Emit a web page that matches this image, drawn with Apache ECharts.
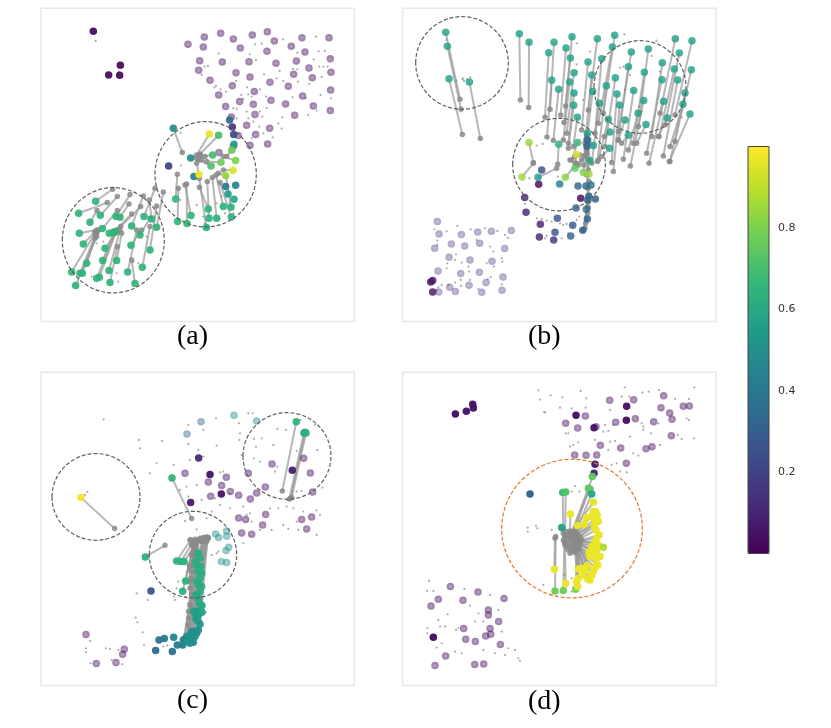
<!DOCTYPE html>
<html><head><meta charset="utf-8">
<style>html,body{margin:0;padding:0;background:#fff}#c{width:831px;height:728px}</style>
<script src="https://cdn.jsdelivr.net/npm/echarts@6/dist/echarts.min.js"></script>
</head><body><div id="c"></div>
<script>
const captions = ['(a)', '(b)', '(c)', '(d)'];
const colorTicks = [0.2, 0.4, 0.6, 0.8];
const viridis = ['#440154','#482878','#3e4989','#31688e','#26828e','#1f9e89','#35b779','#6ece58','#b5de2b','#fde725'];

// Panel (a): [x, y, value]
const aSolid = [[190,94,.005],[271,196,.01],[236,225,.01],[269,226,.01],[416,498,.2],[492,530,.42],[587,560,.4],[617,556,.46],[599,360,.35],[607,381,.15],[611,404,.22],[612,433,.55],[594,582,.55],[612,598,.6]];
const aFaint = [[474,133],[523,111],[572,100],[610,117],[667,105],[712,95],[733,123],[816,113],[897,113],[520,141],[631,144],[711,154],[784,139],[825,156],[509,182],[577,186],[657,185],[738,190],[799,183],[901,176],[506,211],[618,218],[660,231],[791,223],[837,204],[847,233],[903,217],[540,241],[607,257],[720,247],[775,259],[902,270],[566,285],[673,275],[629,305],[670,313],[723,301],[767,312],[818,288],[850,318],[901,332],[587,320],[675,344],[794,346],[604,351],[650,376],[719,385],[677,404],[625,407],[713,432],[660,436],[610,440],[567,458]];
const aSmall = [[197,123],[267,215],[759,118],[858,110],[675,133],[695,131],[566,161],[659,163],[678,180],[802,158],[866,154],[885,153],[851,178],[534,198],[524,200],[789,207],[802,208],[749,213],[868,200],[880,200],[893,200],[875,231],[515,225],[702,223],[618,243],[760,243],[740,235],[804,245],[553,262],[558,258],[572,268],[588,275],[634,285],[651,262],[655,283],[690,268],[708,290],[788,292],[838,252],[872,285],[827,295],[903,295],[640,297],[665,290],[610,325],[620,327],[710,324],[650,335],[690,335],[697,350],[757,352],[835,345],[860,332],[620,355],[655,355],[670,365],[745,370],[688,380],[755,386],[700,400],[728,412],[665,415],[452,398],[453,497],[450,600],[500,615],[520,650],[525,670],[585,640],[600,610],[610,640],[575,590],[560,610],[200,730],[220,725],[185,830],[265,845],[310,785],[325,790],[260,820],[350,710]];
const aLinks = [[197,604,248,568,.65],[146,640,232,608,.65],[211,646,262,590,.65],[180,667,201,632,.65],[258,650,300,584,.65],[270,652,297,612,.65],[342,650,375,565,.65],[305,678,340,588,.65],[365,657,358,600,.65],[380,682,400,576,.65],[217,686,262,632,.65],[257,695,332,620,.65],[148,700,200,690,.65],[330,705,360,655,.65],[250,697,305,642,.65],[238,700,272,680,.65],[160,732,195,695,.65],[303,736,335,690,.65],[360,750,380,618,.65],[225,745,262,695,.65],[218,782,250,700,.65],[260,782,275,700,.65],[170,790,200,700,.65],[125,816,195,700,.65],[150,820,200,695,.65],[157,820,205,690,.65],[237,812,270,690,.65],[293,816,320,690,.65],[337,802,360,680,.65],[208,832,260,690,.65],[200,835,255,700,.65],[240,848,262,740,.65],[315,851,305,780,.65],[137,857,200,710,.65],
[437,597,442,523,.66],[443,665,445,565,.66],[471,671,470,552,.66],[483,647,465,555,.66],[535,627,508,562,.66],[529,683,508,535,.64],[537,655,532,545,.64],[560,655,547,533,.64],[580,620,558,525,.64],[604,651,570,548,.64],[603,622,588,530,.64],[430,385,457,458,.5],[538,402,500,465,.97],[566,406,510,462,.7],[482,474,510,465,.5],[548,465,510,470,.7],[543,498,505,480,.72],[573,487,530,485,.78],[617,482,580,470,.8],[605,451,590,470,.78],[587,527,565,520,.85],[609,511,580,510,.95],[507,524,500,490,.97]];
const aGray = [[200,695],[197,705],[195,715],[500,475],[515,480],[525,470]];

// Panel (b)
const bSolid = [[107,846,.06],[113,842,.06],[113,876,.06],[440,510,.25],[431,553,.02],[494,552,.42],[549,558,.32],[588,555,.38],[573,558,.33],[557,595,.02],[601,597,.28],[389,593,.1],[393,637,.1],[487,655,.25],[436,673,.1],[480,697,.25],[533,676,.28],[433,711,.1],[476,720,.15],[527,708,.3],[563,691,.3],[543,624,.3],[574,628,.35],[577,657,.32]];
const bFaint = [[127,665],[132,702],[199,704],[248,696],[289,694],[349,692],[119,745],[169,732],[209,738],[254,730],[329,746],[162,772],[225,780],[291,784],[129,813],[197,821],[253,817],[324,831],[273,848],[222,856],[321,871],[260,877],[181,875],[131,876],[164,862]];
const bSmall = [[154,120],[205,235],[207,243],[202,238],[216,238],[226,232],[184,243],[118,688],[155,694],[187,678],[227,688],[270,685],[307,693],[330,705],[338,714],[127,722],[126,735],[245,720],[285,740],[295,755],[183,763],[180,780],[157,790],[155,805],[200,788],[220,800],[222,815],[275,790],[297,800],[320,775],[322,785],[287,832],[278,838],[225,840],[180,848],[197,840],[160,855],[130,862],[140,855],[125,870],[198,858],[320,853],[250,867],[425,437],[443,432],[390,612],[425,655],[440,657],[455,662],[470,665],[450,715],[455,708],[495,670],[505,675],[515,672],[500,715],[520,700],[545,660],[553,650],[403,535],[488,530],[688,103],[545,130],[585,155],[545,193],[675,203],[685,200],[770,168],[784,122],[705,225],[690,270],[795,215],[545,215],[565,300],[732,320],[740,335],[860,352]];
const bLinks = [[152,97,195,298,.57],[157,139,198,328,.57],[162,236,202,404,.57],[223,246,256,416,.57],
[373,101,376,300,.57],[402,127,401,323,.57],[477,127,465,328,.57],[531,110,512,318,.57],[461,158,450,352,.57],[513,144,497,345,.57],[607,116,580,330,.57],[659,106,625,340,.57],[526,174,507,368,.57],[579,186,560,390,.57],[652,141,610,370,.57],[620,176,600,400,.57],[709,156,670,395,.57],[760,147,730,380,.57],[841,116,795,340,.57],[891,122,840,345,.57],[853,159,810,375,.57],[802,188,770,410,.57],[700,200,670,420,.57],[537,218,515,400,.57],[590,225,570,430,.57],[748,217,715,430,.57],[661,233,630,440,.57],[838,207,792,410,.57],[889,209,840,425,.57],[470,241,456,411,.57],[524,246,505,420,.57],[634,257,607,485,.57],[801,239,755,460,.57],[848,240,805,468,.57],[491,268,475,422,.57],[537,279,520,430,.57],[593,275,575,420,.57],[716,272,685,478,.57],[666,282,650,488,.57],[870,279,825,485,.57],[746,302,706,498,.57],[806,304,762,490,.57],[536,316,520,445,.57],[613,310,590,490,.57],[674,315,655,515,.57],[864,313,825,440,.57],[885,342,823,485,.57],[729,340,700,450,.57],[547,352,535,440,.57],[640,358,610,480,.57],[690,360,670,420,.57],[817,354,790,410,.57],[753,374,725,430,.57],[645,396,628,410,.57],[700,406,680,430,.57],[644,445,620,470,.57],
[402,428,415,488,.85],[381,531,415,490,.85],[491,433,488,493,.62],[548,428,530,480,.65],[545,464,540,490,.95],[511,532,545,490,.82],[429,532,485,505,.55],[540,505,570,470,.75],[565,518,575,460,.8],[582,522,575,430,.85],[585,482,575,410,.6],[577,400,575,440,.55],[595,437,578,420,.55],
[578,420,580,600,.33],[576,440,578,620,.33],[581,590,565,690,.33],[578,600,570,685,.33]];
const bGray = [[575,405],[572,420],[578,435],[574,450],[570,465],[580,480],[560,480],[550,495],[566,495],[580,510],[575,525],[582,545],[580,565],[583,585],[581,605],[580,625],[578,640],[576,655],[572,670],[566,690],[525,480],[540,470],[555,465]];

// Panel (c)
const cSolid = [[540,329,.05],[574,387,.05],[482,413,.07],[787,316,.08],[506,279,.12],[363,678,.27],[387,825,.38],[403,821,.4],[431,817,.45],[377,857,.35],[427,860,.38],[442,840,.42],[458,840,.42]];
const cFaint = [[612,151,.5],[680,168,.5],[513,170,.35],[471,207,.35],[557,507,.5],[566,518,.5],[590,498,.5],[590,514,.5],[596,547,.5],[588,557,.5],[574,590,.5],[590,593,.5],[465,325,.03],[726,297,.03],[821,280,.03],[655,325,.03],[841,324,.03],[589,337,.03],[535,351,.03],[575,362,.03],[706,366,.03],[601,380,.03],[542,394,.03],[626,391,.03],[661,402,.03],[680,384,.03],[848,381,.03],[626,459,.03],[647,464,.03],[707,449,.03],[698,480,.03],[815,464,.03],[845,456,.03],[830,492,.03],[635,504,.03],[665,508,.03],[168,809,.03],[283,853,.03],[278,868,.03],[258,893,.03],[199,896,.03]];
const cSmall = [[221,163],[327,225],[330,250],[396,228],[380,295],[360,325],[431,300],[475,180],[475,237],[505,255],[520,195],[558,160],[655,145],[668,145],[627,175],[630,205],[628,225],[560,242],[672,222],[678,245],[695,220],[742,192],[768,195],[730,240],[635,270],[672,280],[690,290],[812,165],[855,180],[862,255],[742,305],[800,258],[735,320],[480,285],[520,275],[570,322],[580,320],[450,375],[470,365],[500,360],[475,395],[515,405],[555,400],[570,420],[600,430],[530,460],[465,468],[500,493],[545,440],[640,425],[660,445],[720,430],[745,430],[770,425],[790,430],[820,440],[860,436],[870,450],[800,470],[760,480],[725,495],[665,470],[650,450],[860,510],[805,495],[775,492],[690,495],[640,535],[565,560],[560,565],[545,570],[320,685],[353,705],[317,758],[322,772],[338,802],[342,840],[445,650],[440,670],[432,695],[435,705],[470,620],[475,715],[527,742],[400,845],[412,842],[228,850],[240,852],[168,850],[168,862],[180,828],[182,895],[245,885],[277,898],[265,855],[600,385],[815,378],[800,380],[877,368],[165,390],[172,381]];
const cLinks = [[153,398,254,491,.98],[346,576,405,541,.62],[426,339,485,461,.65],[799,170,757,378,.65],[825,202,782,400,.63],[828,204,785,398,.63],[822,204,778,402,.63],
[440,588,482,525,.64],[452,590,495,523,.64],[462,590,505,525,.64],[467,648,492,530,.64],[458,679,492,535,.64],[505,565,525,520,.62],[510,578,532,518,.62],[498,590,520,525,.62],[512,605,530,520,.62],[503,620,526,522,.62],[510,640,528,520,.62],[505,660,522,526,.62],[510,680,530,522,.62],[506,700,535,518,.6],[508,715,515,530,.6],[500,740,500,535,.58],[512,735,505,600,.58],[495,745,490,590,.56],[505,770,495,560,.55],[500,800,485,540,.52],[490,805,480,610,.5],[478,812,495,530,.5],[465,822,490,600,.5],[490,832,490,560,.5],[482,822,500,560,.5],[470,830,495,700,.48],
[500,600,525,522,.62],[515,625,528,525,.62],[500,650,520,522,.62],[515,665,530,525,.62],[498,690,524,520,.6],[516,722,532,522,.6],[492,738,490,545,.56],[516,742,500,560,.58],[505,752,495,575,.56],[498,762,492,590,.55],[510,778,485,620,.54],[505,795,482,640,.5],[495,815,478,650,.5],[485,800,480,670,.5],[470,815,485,690,.5],[460,825,480,720,.47],[480,835,476,740,.5],[500,805,476,760,.5],[475,825,474,780,.5],[488,812,478,600,.5],[495,800,484,570,.5]];
const cGray = [[510,520],[520,518],[530,516],[535,520],[525,528],[515,530],[530,530],[500,530],[500,545],[495,550],[490,565],[485,540],[480,525]];

// Panel (d)
const dSolid = [[181,147,.04],[214,139,.05],[233,118,.05],[235,129,.05],[695,124,.05],[543,151,.04],[694,166,.04],[597,188,.06],[115,817,.03],[405,387,.3],[600,298,.08],[597,325,.1]];
const dFaint = [[644,106],[716,104],[806,92],[798,128],[865,124],[883,123],[824,144],[831,163],[571,153],[512,175],[662,172],[721,161],[776,170],[548,189],[603,185],[829,212],[616,241],[677,249],[753,251],[771,245],[539,270],[573,271],[605,270],[694,295],[166,665],[249,681],[130,703],[204,706],[327,701],[108,723],[280,735],[280,750],[311,770],[285,791],[206,791],[287,808],[272,813],[212,823],[241,830],[316,839],[152,873],[120,902],[239,899],[266,897]];
const dSmall = [[431,76],[435,104],[467,91],[502,97],[557,78],[574,100],[689,67],[703,95],[680,95],[742,83],[761,80],[792,75],[840,102],[882,102],[898,67],[495,128],[451,142],[447,142],[530,130],[572,128],[645,135],[740,175],[745,185],[790,175],[875,160],[882,165],[655,180],[630,180],[625,200],[640,198],[512,205],[520,205],[745,195],[705,215],[768,205],[860,222],[897,220],[848,210],[525,245],[535,240],[550,232],[600,225],[645,230],[660,228],[715,265],[730,272],[795,240],[640,255],[650,300],[665,295],[675,320],[695,322],[540,363],[553,380],[530,380],[398,488],[398,500],[423,483],[427,490],[470,495],[445,660],[530,640],[508,630],[530,680],[102,648],[96,678],[115,678],[208,672],[285,690],[225,722],[310,735],[130,765],[158,748],[190,790],[150,785],[97,790],[97,805],[135,785],[183,795],[250,745],[240,770],[265,770],[320,800],[340,850],[360,855],[370,880],[375,888],[265,855],[300,865],[200,865],[180,860],[125,848],[140,835],[330,870]];
const dLinks = [[503,383,505,495,.68],[512,381,510,515,.72],[585,372,530,505,.75],[592,335,535,510,.75],[580,370,525,515,.75],[590,387,540,505,.6],[500,488,510,510,.58],[480,678,482,515,.78],[505,677,508,530,.78],[542,673,545,545,.8],
[595,412,530,500,.96],[526,447,525,510,.97],[574,458,535,515,.97],[602,440,540,505,.97],[607,452,545,515,.97],[548,482,530,520,.97],[568,478,540,520,.97],[600,470,545,525,.97],[603,495,550,525,.97],[605,520,545,530,.97],[610,540,550,535,.97],[625,547,555,525,.88],[582,562,535,540,.97],[598,560,540,530,.97],[603,582,545,540,.97],[478,613,480,520,.97],[550,612,545,545,.97],[570,617,548,550,.97],[577,602,530,535,.97],[600,608,540,545,.97],[590,632,550,540,.97],[578,642,545,535,.97],[512,656,510,540,.97],[545,650,545,555,.97],[548,665,552,550,.97],
[595,440,535,505,.97],[610,470,545,510,.97],[590,455,530,510,.97],[598,485,548,520,.97],[612,510,552,528,.97],[600,530,550,530,.97],[590,545,545,535,.97],[605,560,548,540,.97],[615,575,552,535,.97],[585,575,540,540,.97],[608,600,545,548,.97],[595,620,548,545,.97],[560,610,540,550,.97],[565,630,535,545,.97],[585,645,542,552,.97],[550,640,538,555,.97]];
const dGray = [[505,505],[515,500],[525,498],[535,500],[545,505],[555,515],[510,515],[520,510],[530,510],[540,515],[550,520],[560,525],[505,525],[515,525],[525,522],[535,525],[545,528],[555,535],[510,535],[520,535],[530,535],[540,538],[550,545],[515,545],[525,548],[535,550],[545,555],[520,555],[530,560],[540,562],[525,565]];

// Dashed rings [cx, cy, rx, ry]
const aRings = [[250,721,153,158],[527,523,152,158]];
const bRings = [[201,189,139,139],[735,261,138,139],[492,494,139,139]];
const cRings = [[198,396,132,130],[771,273,132,130],[489,569,131,130]];
const dRings = [[531,491,211,208]];

const panels = [
  {solid:aSolid, faint:aFaint.map(p=>[p[0],p[1],.03]), small:aSmall, links:aLinks, extra:aGray, rings:aRings, ring:'#5f5f5f', left:41, top:8.3, x0:33, y0:25, op:.5, sop:.92, cap:[177,323]},
  {solid:bSolid, faint:bFaint.map(p=>[p[0],p[1],.12]), small:bSmall, links:bLinks, extra:bGray, rings:bRings, ring:'#5f5f5f', left:402.7, top:8.3, x0:23, y0:25, op:.4, sop:.82, cap:[528,323]},
  {solid:cSolid, faint:cFaint, small:cSmall, links:cLinks, extra:cGray, rings:cRings, ring:'#5f5f5f', left:41, top:372.3, x0:33, y0:22, op:.5, sop:.95, cap:[177,687]},
  {solid:dSolid, faint:dFaint.map(p=>[p[0],p[1],.03]), small:dSmall, links:dLinks, extra:dGray, rings:dRings, ring:'#e8762b', left:402.7, top:372.3, x0:23, y0:22, op:.5, sop:.97, cap:[528,688]}
];

const grid=[], xAxis=[], yAxis=[], series=[], title=[], colored=[];
panels.forEach((p,i)=>{
  grid.push({left:p.left, top:p.top, width:313.3, height:313.3, show:true, backgroundColor:'#fff', borderColor:'#e8e8e8', borderWidth:1.5});
  xAxis.push({type:'value', gridIndex:i, min:p.x0, max:p.x0+940, show:false});
  yAxis.push({type:'value', gridIndex:i, min:p.y0, max:p.y0+940, inverse:true, show:false});
  title.push({text:captions[i], left:p.cap[0], top:p.cap[1], padding:0,
    textStyle:{fontFamily:'Liberation Serif', fontSize:28, fontWeight:'normal', color:'#000'}});
  const ax = {xAxisIndex:i, yAxisIndex:i, silent:true, animation:false};
  const scat = (name,data,size,style,z)=>{ series.push({type:'scatter',name,data,symbolSize:size,itemStyle:style,z,...ax}); };
  series.push({type:'lines', coordinateSystem:'cartesian2d', z:2, ...ax, polyline:false,
    lineStyle:{color:'#999', width:2, opacity:.7},
    data:p.links.map(l=>({coords:[[l[0],l[1]],[l[2],l[3]]]}))});
  scat('small', p.small, 2.2, {color:'#808080', opacity:.65}, 3);
  colored.push(series.length);
  scat('faint', p.faint, 7.5, {opacity:p.op}, 4);
  scat('faint centre', p.faint.map(q=>[q[0],q[1]]), 3, {color:'#fff', opacity:.2}, 4);
  scat('gray', p.links.map(l=>[l[2],l[3]]).concat(p.extra), 5.5, {color:'#8a8a8a', opacity:.85}, 5);
  colored.push(series.length);
  scat('colored', p.solid.concat(p.links.map(l=>[l[0],l[1],l[4]])), 7.5, {opacity:p.sop}, 6);
  series.push({type:'custom', z:7, ...ax, data:p.rings, clip:false,
    encode:{x:0,y:1},
    renderItem:(params,api)=>{
      const c = api.coord([api.value(0),api.value(1)]);
      const s = api.size([1,1]);
      return {type:'ellipse', shape:{cx:c[0],cy:c[1],rx:api.value(2)*s[0],ry:api.value(3)*s[1]},
        style:{fill:null, stroke:p.ring, lineWidth:1.2, lineDash:[4,2]}};
    }});
});

// colour-bar scale
grid.push({left:748, top:146.5, width:21, height:407, show:true, z:10, backgroundColor:'transparent', borderColor:'#444', borderWidth:1});
xAxis.push({type:'value', gridIndex:4, min:0, max:1, show:false});
yAxis.push({type:'value', gridIndex:4, min:0, max:1, position:'right',
  axisLine:{show:false}, splitLine:{show:false},
  axisTick:{show:true, length:3, customValues:colorTicks, lineStyle:{color:'#333'}},
  axisLabel:{show:true, customValues:colorTicks, margin:9, fontFamily:'DejaVu Sans', fontSize:11, color:'#333', formatter:v=>v.toFixed(1)}});

const chart = echarts.init(document.getElementById('c'), null, {renderer:'canvas'});
chart.setOption({
  animation:false, backgroundColor:'#fff', title, grid, xAxis, yAxis, series,
  visualMap:{type:'continuous', min:0, max:1, dimension:2, seriesIndex:colored, calculable:false, hoverLink:false,
    orient:'vertical', left:748, top:146.5, itemWidth:21, itemHeight:407, padding:0, text:null, showLabel:false,
    inRange:{color:viridis}, textStyle:{color:'transparent'}}
});
</script></body></html>
